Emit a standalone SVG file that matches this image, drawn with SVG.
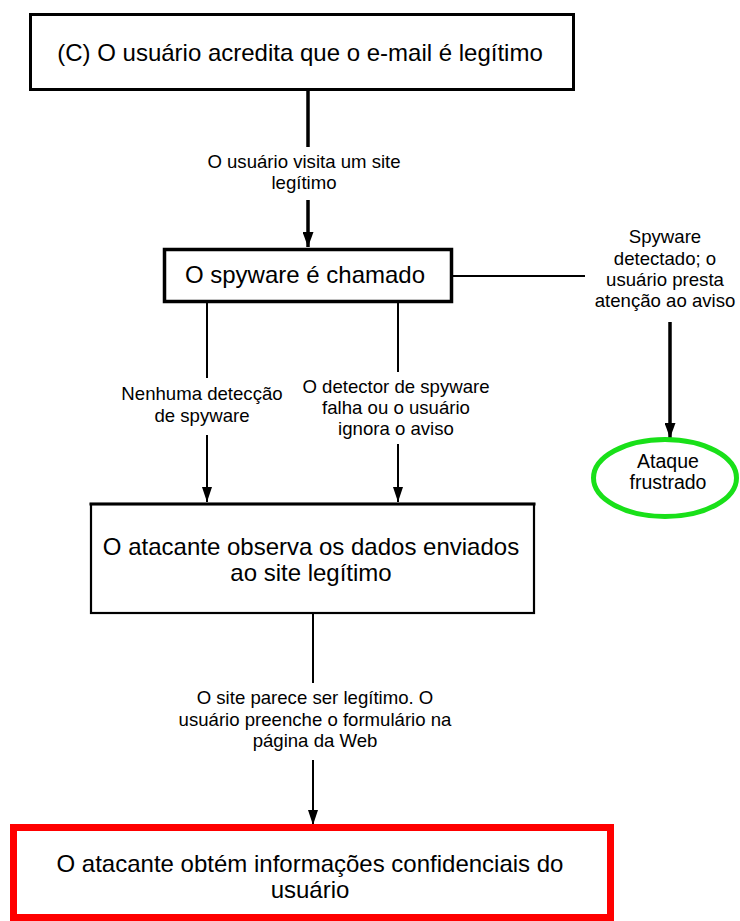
<svg xmlns="http://www.w3.org/2000/svg" width="740" height="921" viewBox="0 0 740 921">
<style>
text{font-family:"Liberation Sans",Arial,sans-serif;fill:#000;text-anchor:middle}
.big{font-size:24px}
.lbl{font-size:18.6px}
.node{fill:#fff;stroke:#000}
.red{fill:#fff;stroke:#ff0000;stroke-width:7}
.thick{stroke:#000;stroke-width:3.5;fill:none}
.thin{stroke:#000;stroke-width:2;fill:none}
</style>
<defs>
<marker id="ah" markerUnits="userSpaceOnUse" markerWidth="15" markerHeight="11" refX="15" refY="5.5" orient="auto">
<path d="M0,0 L15,5.5 L0,11 z" fill="#000"/>
</marker>
<marker id="ahs" markerUnits="userSpaceOnUse" markerWidth="15" markerHeight="10" refX="15" refY="5" orient="auto">
<path d="M0,0 L15,5 L0,10 z" fill="#000"/>
</marker>
</defs>
<rect width="740" height="921" fill="#fff"/>
<g id="connectors">
<line class="thick" x1="308" y1="91" x2="308" y2="147"/>
<line class="thick" x1="308" y1="200" x2="308" y2="247" marker-end="url(#ah)"/>
<line class="thin" x1="453" y1="276" x2="585" y2="276"/>
<line class="thick" x1="670" y1="322" x2="670" y2="438" marker-end="url(#ah)"/>
<line class="thin" x1="207" y1="303" x2="207" y2="378"/>
<line class="thin" x1="207" y1="435" x2="207" y2="502" marker-end="url(#ahs)"/>
<line class="thin" x1="398" y1="303" x2="398" y2="372"/>
<line class="thin" x1="398" y1="444" x2="398" y2="502" marker-end="url(#ahs)"/>
<line class="thin" x1="313" y1="614" x2="313" y2="683"/>
<line class="thin" x1="313" y1="760" x2="313" y2="825" marker-end="url(#ahs)"/>
<text class="lbl"><tspan x="304" y="168">O usuário visita um site</tspan><tspan x="304" y="189">legítimo</tspan></text>
<text class="lbl"><tspan x="665" y="243">Spyware</tspan><tspan x="665" y="265">detectado; o</tspan><tspan x="665" y="286">usuário presta</tspan><tspan x="665" y="307">atenção ao aviso</tspan></text>
<text class="lbl"><tspan x="202" y="400">Nenhuma detecção</tspan><tspan x="202" y="422">de spyware</tspan></text>
<text class="lbl"><tspan x="396" y="393">O detector de spyware</tspan><tspan x="396" y="414">falha ou o usuário</tspan><tspan x="396" y="435">ignora o aviso</tspan></text>
<text class="lbl"><tspan x="315" y="704">O site parece ser legítimo. O</tspan><tspan x="315" y="726">usuário preenche o formulário na</tspan><tspan x="315" y="747">página da Web</tspan></text>
</g>
<g id="node-email">
<rect class="node" x="30.5" y="14.5" width="543" height="75" stroke-width="3"/>
<text class="big" x="300" y="61">(C) O usuário acredita que o e-mail é legítimo</text>
</g>
<g id="node-spyware">
<rect class="node" x="164.5" y="249.5" width="287" height="52" stroke-width="3.5"/>
<text class="big" x="305" y="283">O spyware é chamado</text>
</g>
<g id="node-frustrado">
<ellipse cx="665" cy="478" rx="71.5" ry="38.5" fill="#fff" stroke="#19e019" stroke-width="5"/>
<text class="lbl" style="font-size:19.5px"><tspan x="668" y="468">Ataque</tspan><tspan x="668" y="489">frustrado</tspan></text>
</g>
<g id="node-observa">
<rect class="node" x="91" y="504" width="443" height="109" stroke-width="2.2"/>
<line x1="89.5" y1="504" x2="535.5" y2="504" stroke="#000" stroke-width="3"/>
<text class="big"><tspan x="311" y="555">O atacante observa os dados enviados</tspan><tspan x="311" y="581">ao site legítimo</tspan></text>
</g>
<g id="node-obtem">
<rect class="red" x="13.5" y="827.5" width="597" height="90"/>
<text class="big"><tspan x="310" y="872">O atacante obtém informações confidenciais do</tspan><tspan x="310" y="898">usuário</tspan></text>
</g>
</svg>
